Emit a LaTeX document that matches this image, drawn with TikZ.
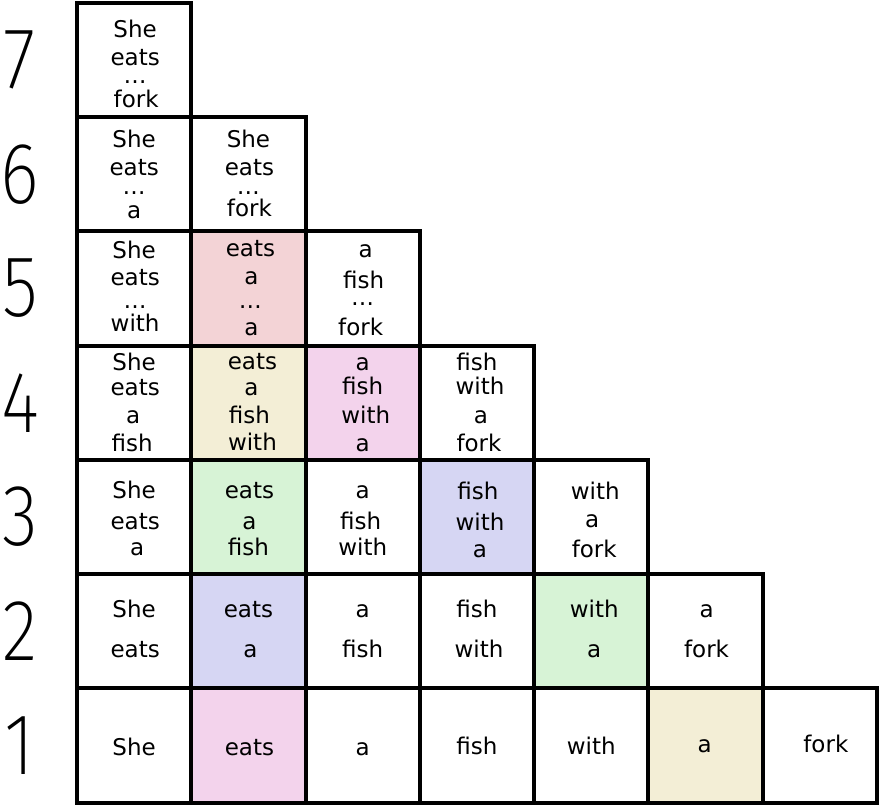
\documentclass[tikz,border=0pt]{standalone}
\usepackage{fontspec}
\setmainfont{DejaVu Sans}
\IfFontExistsTF{Fira Sans ExtraLight}{\newfontfamily\numfont{Fira Sans ExtraLight}}{%
  \IfFontExistsTF{Fira Sans Light}{\newfontfamily\numfont{Fira Sans Light}}{\newfontfamily\numfont{DejaVu Sans}}}
\definecolor{cpink}{HTML}{F3D3D6}
\definecolor{cbeige}{HTML}{F3EED6}
\definecolor{corchid}{HTML}{F3D3EC}
\definecolor{cgreen}{HTML}{D7F3D6}
\definecolor{clav}{HTML}{D6D6F3}
\tikzset{
  cellbox/.style={rectangle, minimum width=114.2857pt, minimum height=114.214pt, inner sep=0pt, outer sep=0pt},
  gridline/.style={draw=black, line width=4pt, line join=miter},
  word/.style={font=\fontsize{23}{27}\selectfont, inner sep=0pt, anchor=base, text=black},
  digit/.style={font=\numfont\fontsize{87}{87}\selectfont, inner sep=0pt, anchor=center, text=black}
}
\begin{document}
\begin{tikzpicture}[x=1pt,y=-1pt]
\useasboundingbox (0,0) rectangle (880,811);
% cells
\foreach \r in {1,...,7}{
  \pgfmathtruncatemacro\maxc{8-\r}
  \foreach \c in {1,...,\maxc}{
    \node[cellbox] (cell-\c-\r) at ({77+(\c-0.5)*114.2857},{802.5-(\r-0.5)*114.214}) {};
  }
}
% coloured cells
\foreach \c/\r/\col in {2/5/cpink, 2/4/cbeige, 3/4/corchid, 2/3/cgreen, 4/3/clav, 2/2/clav, 5/2/cgreen, 2/1/corchid, 6/1/cbeige}{
  \fill[\col] (cell-\c-\r.north west) rectangle (cell-\c-\r.south east);
}
% borders
\foreach \r in {1,...,7}{
  \pgfmathtruncatemacro\maxc{8-\r}
  \foreach \c in {1,...,\maxc}{
    \draw[gridline] (cell-\c-\r.north west) rectangle (cell-\c-\r.south east);
  }
}
% row numbers
\foreach \r in {1,...,7}{
  \node[digit] (num-\r) at (20,{802.5-(\r-0.5)*114.214}) {\scalebox{0.85}[1]{\r}};
}
% words
\foreach \c/\y/\dx/\t [count=\i] in {
  1/37.3/1/She, 1/65/1/eats, 1/83.7/1/…, 1/107.3/2/fork,
  1/147.7/0/She, 1/175.7/0/eats, 1/194.7/0/…, 1/218.3/0/a,
  2/147.7/0/She, 2/175.7/1/eats, 2/194.7/0/…, 2/216/1/fork,
  1/258/0/She, 1/285/1/eats, 1/308/1/…, 1/331.7/1/with,
  2/256/2/eats, 2/284/3/a, 2/308/2/…, 2/335/3/a,
  3/257/3/a, 3/288/1/fish, 3/305/0/…, 3/335/-2/fork,
  1/370/0/She, 1/395/1/eats, 1/423/-1/a, 1/451/-2/fish,
  2/369/4/eats, 2/395/3/a, 2/423/1/fish, 2/450/4/with,
  3/370/0/a, 3/394/0/fish, 3/423/3/with, 3/451/0/a,
  4/370/0/fish, 4/394/3/with, 4/423/4/a, 4/451/2/fork,
  1/498/0/She, 1/529/1/eats, 1/555/3/a,
  2/498/1/eats, 2/529/1/a, 2/555/0/fish,
  3/498/0/a, 3/529/-2/fish, 3/555/0/with,
  4/499/1/fish, 4/530/3/with, 4/557/3/a,
  5/499/4/with, 5/527/1/a, 5/557/3/fork,
  1/617.7/0/She, 1/657/1/eats,
  2/617.7/0/eats, 2/657/2/a,
  3/617.7/0/a, 3/657/0/fish,
  4/617.7/0/fish, 4/657/2/with,
  5/617.7/3/with, 5/657/3/a,
  6/617.7/1/a, 6/657/1/fork,
  1/755/0/She, 2/755/1/eats, 3/755/0/a, 4/754/0/fish, 5/754/0/with, 6/752/-1/a, 7/752/6/fork}{
  \node[word] (w\i) at ({77+(\c-0.5)*114.2857+\dx},\y) {\t};
}
\end{tikzpicture}
\end{document}
